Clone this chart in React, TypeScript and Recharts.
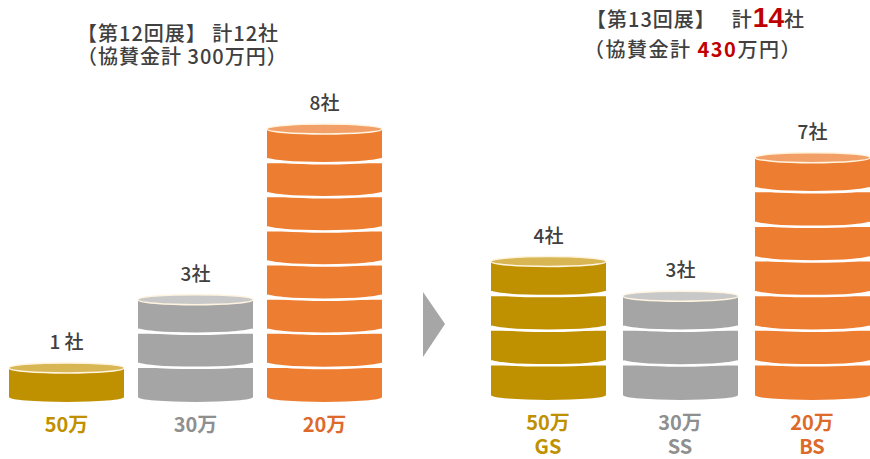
import React from 'react';
import { BarChart, Bar, XAxis, YAxis } from 'recharts';

// tiers (x categories)
const tiers = ['50万', '30万', '20万'];
const tierCodes = ['GS', 'SS', 'BS'];

// number of sponsors per tier
const count12 = [1, 3, 8];
const count13 = [4, 3, 7];
const countLabels12 = ['1 社', '3社', '8社'];
const countLabels13 = ['4社', '3社', '7社'];

const bodyColors = ['#BF9000', '#A5A5A5', '#ED7D31'];
const topColors = ['#D8B654', '#C8C8C8', '#F2A067'];
const textColors = ['#BF9000', '#8F8F8F', '#DD6A2A'];

const FONT = '"Noto Sans CJK JP", "Noto Sans", sans-serif';
const INK = '#404040';

const data12 = tiers.map((t, i) => ({ tier: t, count: count12[i], label: countLabels12[i] }));
const data13 = tiers.map((t, i) => ({ tier: t, code: tierCodes[i], count: count13[i], label: countLabels13[i] }));

const RY = 5;

const CoinStack = (props: any) => {
  const { x, y, width, height, payload, index } = props;
  const n = payload.count;
  const h = height / n;
  const base = y + height;
  const coins = [];
  for (let i = 0; i < n; i++) {
    const top = base - (i + 1) * h;
    const bot = base - i * h;
    coins.push(
      <path
        key={`c${i}`}
        d={`M${x},${top} L${x + width},${top} L${x + width},${bot - RY} A${width / 2},${RY} 0 0 1 ${x},${bot - RY} Z`}
        fill={bodyColors[index]}
      />
    );
    if (i > 0) {
      coins.push(
        <path
          key={`s${i}`}
          d={`M${x + width},${bot - RY} A${width / 2},${RY} 0 0 1 ${x},${bot - RY}`}
          fill="none"
          stroke="#FFFFFF"
          strokeWidth={2.5}
        />
      );
    }
  }
  return (
    <g>
      {coins}
      <ellipse cx={x + width / 2} cy={y} rx={width / 2} ry={RY} fill={topColors[index]} stroke="#FFF4E0" strokeWidth={1.5} />
      <text x={x + width / 2} y={y - 19} textAnchor="middle" fill={INK} fontSize={19} fontWeight={500} fontFamily={FONT}>
        {payload.label}
      </text>
    </g>
  );
};

const TierTick = (props: any) => {
  const { x, y, payload, index, withCode } = props;
  return (
    <text x={x} y={y + 30} textAnchor="middle" fill={textColors[index]} fontSize={20} fontWeight={700} fontFamily={FONT}>
      <tspan x={x}>{payload.value}</tspan>
      {withCode && (
        <tspan x={x} dy={24}>
          {tierCodes[index]}
        </tspan>
      )}
    </text>
  );
};

const titleStyle: React.CSSProperties = {
  position: 'absolute',
  fontFamily: FONT,
  color: INK,
  fontSize: 20,
  fontWeight: 500,
  whiteSpace: 'pre',
  lineHeight: '23px',
  letterSpacing: 1,
};

const RED = '#C00000';

const App: React.FC = () => {
  return (
    <div style={{ position: 'absolute', left: 0, top: 0, width: 870, height: 459, background: '#fff', overflow: 'hidden' }}>
      <div style={{ ...titleStyle, left: 77, top: 21 }}>
        {'【第12回展】 計12社'}
        <br />
        {'（協賛金計 300万円）'}
      </div>

      <div style={{ ...titleStyle, left: 586, top: 3, lineHeight: '30px' }}>
        <span>【第13回展】</span>
        <span style={{ display: 'inline-block', width: 16 }} />
        計<span style={{ color: RED, fontSize: 28, fontWeight: 700, letterSpacing: 0, fontFamily: '"Liberation Sans", Arial, sans-serif' }}>14</span>社
        <br />
        <span style={{ marginLeft: -2, letterSpacing: 1.5 }}>
          （協賛金計 <span style={{ color: RED, fontWeight: 700 }}>430</span>万円）
        </span>
      </div>

      <svg style={{ position: 'absolute', left: 0, top: 0 }} width={870} height={459}>
        <polygon points="423,292 445,324 423,357" fill="#A6A6A6" />
      </svg>

      <div style={{ position: 'absolute', left: 0, top: 0 }}>
        <BarChart width={392} height={459} data={data12} margin={{ top: 129, right: 3, bottom: 0, left: 2 }}>
          <XAxis
            dataKey="tier"
            axisLine={false}
            tickLine={false}
            tickSize={0}
            tickMargin={0}
            height={57}
            interval={0}
            tick={(p: any) => <TierTick {...p} withCode={false} />}
          />
          <YAxis hide domain={[0, 8]} />
          <Bar dataKey="count" barSize={115} shape={CoinStack} isAnimationActive={false} />
        </BarChart>
      </div>

      <div style={{ position: 'absolute', left: 482, top: 0 }}>
        <BarChart width={396} height={459} data={data13} margin={{ top: 123, right: 0, bottom: 0, left: 0 }}>
          <XAxis
            dataKey="tier"
            axisLine={false}
            tickLine={false}
            tickSize={0}
            tickMargin={0}
            height={59}
            interval={0}
            tick={(p: any) => <TierTick {...p} withCode={true} />}
          />
          <YAxis hide domain={[0, 8]} />
          <Bar dataKey="count" barSize={115} shape={CoinStack} isAnimationActive={false} />
        </BarChart>
      </div>
    </div>
  );
};

export default App;
